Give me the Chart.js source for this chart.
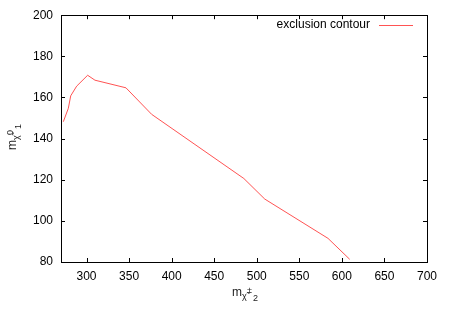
<!DOCTYPE html>
<html>
<head>
<meta charset="utf-8">
<script src="https://cdn.jsdelivr.net/npm/chart.js@4/dist/chart.umd.min.js"></script>
<style>
  html, body { margin: 0; padding: 0; background: #fff; }
</style>
</head>
<body>
<canvas id="myChart" width="450" height="315"></canvas>
<script>
// contour points
const massChargino = [272.7, 278.6, 281.4, 288.4, 301.3, 309.9, 346.3, 376.5, 484.8, 509.4, 583.7, 609.2];
const massNeutralino = [148.2, 154.7, 160.8, 165.5, 170.8, 168.4, 164.7, 151.8, 120.6, 110.6, 91.5, 81.3];
const xTicks = [300, 350, 400, 450, 500, 550, 600, 650, 700];
const yTicks = [80, 100, 120, 140, 160, 180, 200];

const FONT = "'Liberation Sans', Arial, sans-serif";
const LINE_COLOR = "rgba(255, 40, 40, 0.8)";
const points = massChargino.map((x, i) => ({ x: x, y: massNeutralino[i] }));

// gnuplot style frame, inward ticks, legend and axis titles
const framePlugin = {
  id: "frame",
  afterDraw(chart) {
    const c = chart.ctx;
    const a = chart.chartArea;
    const xs = chart.scales.x;
    const ys = chart.scales.y;
    c.save();
    c.strokeStyle = "#000";
    c.lineWidth = 1;
    c.strokeRect(Math.round(a.left) + 0.5, Math.round(a.top) + 0.5,
      Math.round(a.right - a.left), Math.round(a.bottom - a.top));
    c.beginPath();
    xTicks.forEach((v) => {
      const px = Math.round(xs.getPixelForValue(v)) + 0.5;
      c.moveTo(px, a.bottom); c.lineTo(px, a.bottom - 4);
      c.moveTo(px, a.top); c.lineTo(px, a.top + 4);
    });
    yTicks.forEach((v) => {
      const py = Math.round(ys.getPixelForValue(v)) + 0.5;
      c.moveTo(a.left, py); c.lineTo(a.left + 4, py);
      c.moveTo(a.right, py); c.lineTo(a.right - 4, py);
    });
    c.stroke();

    // legend
    c.fillStyle = "#000";
    c.font = "12px " + FONT;
    c.textAlign = "right";
    c.textBaseline = "middle";
    c.fillText("exclusion contour", 370, 25);
    c.beginPath();
    c.strokeStyle = LINE_COLOR;
    c.lineWidth = 1;
    c.moveTo(379, 25.5);
    c.lineTo(413, 25.5);
    c.stroke();

    // x title: m with chargino subscript
    c.fillStyle = "#222";
    c.textAlign = "left";
    c.textBaseline = "alphabetic";
    let x0 = 232, y0 = 296;
    c.font = "12px " + FONT;
    c.fillText("m", x0, y0);
    x0 += c.measureText("m").width;
    c.font = "9px " + FONT;
    c.fillText("χ̃", x0, y0 + 3);
    c.fillText("±", x0 + 5, y0 - 3);
    c.fillText("2", x0 + 11, y0 + 5);

    // y title, rotated
    c.translate(16, 150);
    c.rotate(-Math.PI / 2);
    x0 = 0; y0 = 0;
    c.font = "12px " + FONT;
    c.fillText("m", x0, y0);
    x0 += c.measureText("m").width;
    c.font = "9px " + FONT;
    c.fillText("χ̃", x0, y0 + 3);
    c.fillText("0", x0 + 5, y0 - 3);
    c.fillText("1", x0 + 11, y0 + 5);
    c.restore();
  },
};

new Chart(document.getElementById("myChart").getContext("2d"), {
  type: "scatter",
  data: {
    datasets: [
      {
        label: "exclusion contour",
        data: points,
        showLine: true,
        borderColor: LINE_COLOR,
        borderWidth: 1,
        pointRadius: 0,
        fill: false,
        tension: 0,
      },
    ],
  },
  options: {
    responsive: false,
    animation: false,
    layout: { padding: { top: 15, right: 23, left: 0, bottom: 0 } },
    plugins: {
      legend: { display: false },
      tooltip: { enabled: false },
    },
    scales: {
      x: {
        type: "linear",
        min: 270,
        max: 700,
        grid: { display: false, drawTicks: false },
        border: { display: false },
        afterBuildTicks: (s) => { s.ticks = xTicks.map((v) => ({ value: v })); },
        afterFit: (s) => { s.height = 53; },
        ticks: { color: "#000", padding: 7, maxRotation: 0, font: { family: FONT, size: 12 } },
      },
      y: {
        type: "linear",
        min: 80,
        max: 200,
        grid: { display: false, drawTicks: false },
        border: { display: false },
        afterBuildTicks: (s) => { s.ticks = yTicks.map((v) => ({ value: v })); },
        afterFit: (s) => { s.width = 61; },
        ticks: { color: "#000", padding: 8, font: { family: FONT, size: 12 } },
      },
    },
  },
  plugins: [framePlugin],
});
</script>
</body>
</html>
